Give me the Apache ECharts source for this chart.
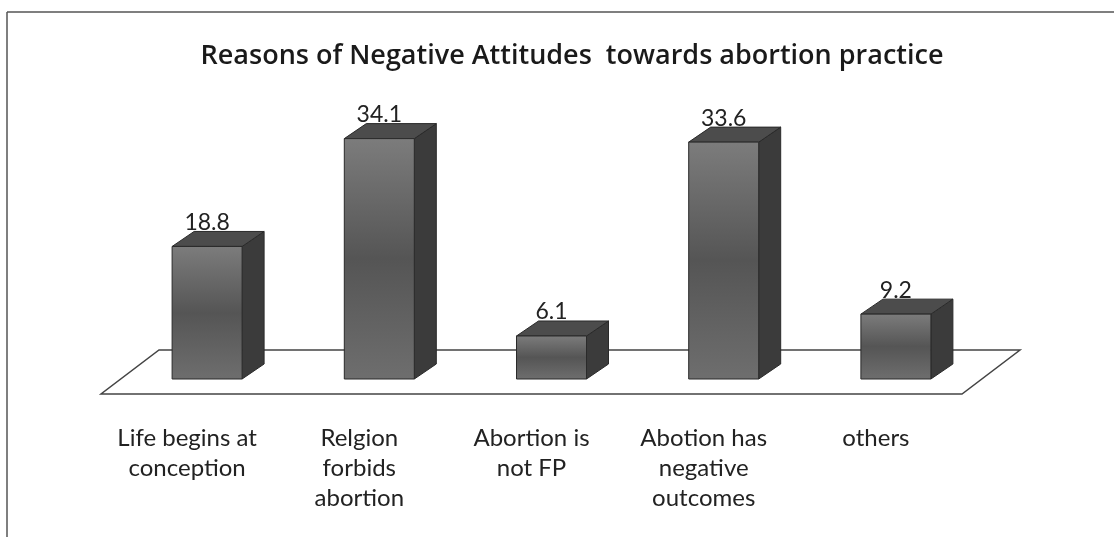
<!DOCTYPE html>
<html>
<head>
<meta charset="utf-8">
<title>Reasons of Negative Attitudes towards abortion practice</title>
<script src="https://cdn.jsdelivr.net/npm/echarts@6/dist/echarts.min.js"></script>
<style>
  html, body { margin: 0; padding: 0; background: #fff; }
  #chart { width: 1114px; height: 537px; }
</style>
</head>
<body>
<div id="chart"></div>
<script>
// data
const categories = [
  'Life begins at\nconception',
  'Relgion\nforbids\nabortion',
  'Abortion is\nnot FP',
  'Abotion has\nnegative\noutcomes',
  'others'
];
const percents = [18.8, 34.1, 6.1, 33.6, 9.2];

const chart = echarts.init(document.getElementById('chart'));

// 3d look: bars sit a bit back on the floor
const SHIFT_X = 20, SHIFT_Y = 15;   // bar front face offset from floor front edge
const DX = 22, DY = 15;             // bar depth
const FLOOR_DX = 58, FLOOR_DY = 44; // floor depth

function renderBar(params, api) {
  const idx = api.value(0);
  const val = api.value(1);
  const base = api.coord([idx, 0]);
  const top = api.coord([idx, val]);
  const w = 70;
  const x0 = base[0] + SHIFT_X - w / 2;
  const x1 = x0 + w;
  const yb = base[1] - SHIFT_Y;
  const yt = top[1] - SHIFT_Y;
  const edge = { stroke: '#2a2a2a', lineWidth: 1 };
  return {
    type: 'group',
    children: [
      {
        type: 'polygon',
        shape: { points: [[x1, yb], [x1 + DX, yb - DY], [x1 + DX, yt - DY], [x1, yt]] },
        style: Object.assign({ fill: '#3b3b3b' }, edge)
      },
      {
        type: 'polygon',
        shape: { points: [[x0, yt], [x1, yt], [x1 + DX, yt - DY], [x0 + DX, yt - DY]] },
        style: Object.assign({ fill: '#4c4c4c' }, edge)
      },
      {
        type: 'rect',
        shape: { x: x0, y: yt, width: w, height: yb - yt },
        style: Object.assign({
          fill: new echarts.graphic.LinearGradient(0, 0, 0, 1, [
            { offset: 0, color: '#7c7c7c' },
            { offset: 0.5, color: '#555555' },
            { offset: 1, color: '#6e6e6e' }
          ])
        }, edge)
      },
      {
        type: 'text',
        style: {
          text: String(val),
          x: x0 + w / 2,
          y: yt - DY - 9,
          align: 'center',
          verticalAlign: 'middle',
          fontFamily: 'Lato',
          fontSize: 23,
          fill: '#222'
        }
      }
    ]
  };
}

function renderFloor(params, api) {
  const cs = params.coordSys;
  const y0 = api.coord([0, 0])[1];
  const xl = cs.x, xr = cs.x + cs.width;
  return {
    type: 'polygon',
    shape: {
      points: [[xl, y0], [xr, y0], [xr + FLOOR_DX, y0 - FLOOR_DY], [xl + FLOOR_DX, y0 - FLOOR_DY]]
    },
    style: { fill: '#fff', stroke: '#444', lineWidth: 1.5 }
  };
}

chart.setOption({
  animation: false,
  backgroundColor: '#fff',
  title: {
    text: 'Reasons of Negative Attitudes  towards abortion practice',
    left: 567,
    textAlign: 'center',
    top: 35,
    textStyle: { fontFamily: 'Open Sans', fontWeight: 600, fontSize: 27, color: '#1a1a1a', lineHeight: 32 }
  },
  graphic: [
    { type: 'line', shape: { x1: 7, y1: 12, x2: 1114, y2: 12 }, style: { stroke: '#555', lineWidth: 1.5 } },
    { type: 'line', shape: { x1: 7, y1: 12, x2: 7, y2: 537 }, style: { stroke: '#555', lineWidth: 1.5 } }
  ],
  grid: { left: 101, width: 861, top: 112, bottom: 143 },
  xAxis: {
    type: 'category',
    data: categories,
    axisLine: { show: false },
    axisTick: { show: false },
    axisLabel: {
      interval: 0,
      margin: 29,
      fontFamily: 'Lato',
      fontSize: 24,
      lineHeight: 30,
      color: '#222',
      verticalAlign: 'top'
    }
  },
  yAxis: {
    type: 'value',
    min: 0,
    max: 40,
    show: false,
    splitLine: { show: false }
  },
  series: [
    {
      type: 'custom',
      renderItem: renderFloor,
      data: [[0, 0]],
      silent: true,
      z: 1
    },
    {
      type: 'custom',
      renderItem: renderBar,
      data: percents.map((v, i) => [i, v]),
      encode: { x: 0, y: 1 },
      z: 2
    }
  ]
});
</script>
</body>
</html>
